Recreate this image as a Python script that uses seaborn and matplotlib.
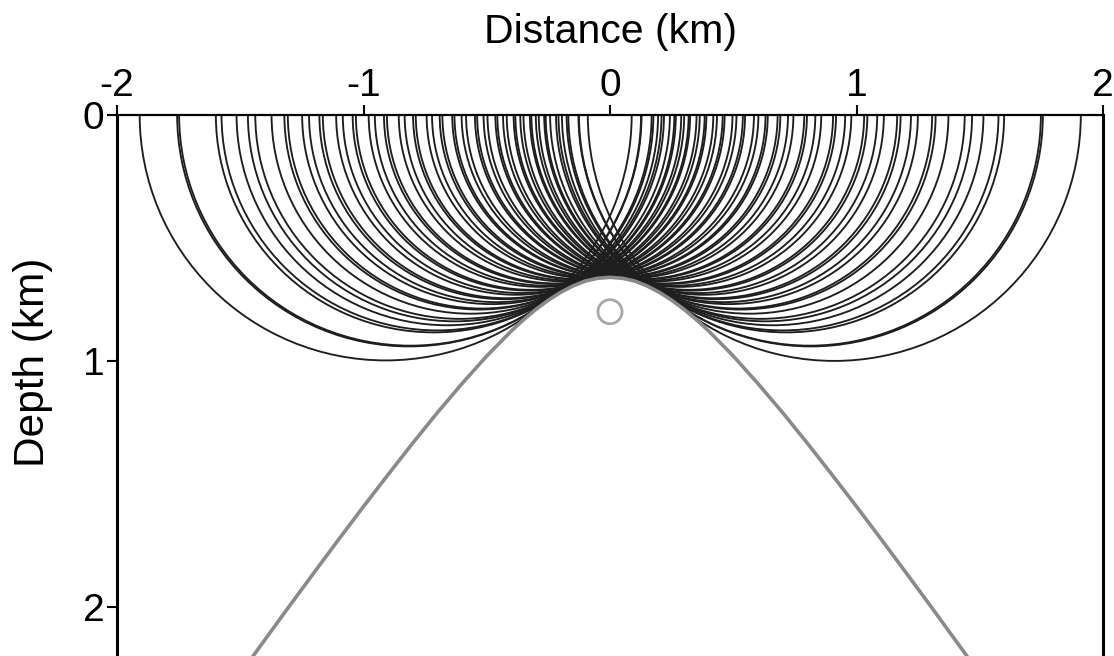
import matplotlib
matplotlib.use("Agg")
import matplotlib.pyplot as plt
from matplotlib.patches import Arc
import seaborn as sns
import pandas as pd

# ---------------- data ----------------
# reflector (gray curve): distance (km) and depth (km)
curve_x = [-1.6, -1.5, -1.4, -1.3, -1.2, -1.1, -1.0, -0.9, -0.8, -0.7, -0.6, -0.5,
           -0.4, -0.35, -0.3, -0.25, -0.2, -0.15, -0.1, -0.05, 0.0,
           0.05, 0.1, 0.15, 0.2, 0.25, 0.3, 0.35, 0.4, 0.5, 0.6, 0.7, 0.8, 0.9,
           1.0, 1.1, 1.2, 1.3, 1.4, 1.5, 1.6]
curve_z = [2.411, 2.272, 2.134, 1.996, 1.860, 1.725, 1.592, 1.462, 1.334, 1.210, 1.092, 0.980,
           0.878, 0.832, 0.790, 0.753, 0.721, 0.695, 0.675, 0.664, 0.660,
           0.664, 0.675, 0.695, 0.721, 0.753, 0.790, 0.832, 0.878, 0.980, 1.092, 1.210, 1.334, 1.462,
           1.592, 1.725, 1.860, 1.996, 2.134, 2.272, 2.411]

# semicircle centres (km, at the surface) and radii (km)
arc_centers = [-0.91, -0.815, -0.81, -0.715, -0.70, -0.66, -0.63, -0.61, -0.565,
               -0.53, -0.52, -0.48, -0.46, -0.43, -0.42, -0.38, -0.36, -0.33, -0.32, -0.28,
               -0.26, -0.23, -0.22, -0.18, -0.16, -0.13, -0.12, -0.08, -0.06, -0.03, -0.02,
               0.02, 0.03, 0.06, 0.08, 0.12, 0.13, 0.16, 0.18, 0.22, 0.23, 0.26,
               0.28, 0.32, 0.33, 0.36, 0.38, 0.42, 0.43, 0.46, 0.48, 0.52, 0.53,
               0.565, 0.61, 0.63, 0.66, 0.70, 0.715, 0.81, 0.815, 0.91]
arc_radii = [0.998, 0.941, 0.938, 0.884, 0.876, 0.855, 0.839, 0.829, 0.808,
             0.791, 0.787, 0.769, 0.761, 0.749, 0.745, 0.731, 0.724, 0.714, 0.711, 0.699,
             0.694, 0.687, 0.685, 0.677, 0.673, 0.669, 0.668, 0.664, 0.662, 0.661, 0.660,
             0.660, 0.661, 0.662, 0.664, 0.668, 0.669, 0.673, 0.677, 0.685, 0.687, 0.694,
             0.699, 0.711, 0.714, 0.724, 0.731, 0.745, 0.749, 0.761, 0.769, 0.787, 0.791,
             0.808, 0.829, 0.839, 0.855, 0.876, 0.884, 0.938, 0.941, 1.000]

# diffractor point
point_x = [0.0]
point_z = [0.80]

x_ticks = [-2, -1, 0, 1, 2]
y_ticks = [0, 1, 2]
x_label = "Distance (km)"
y_label = "Depth (km)"

# ---------------- style ----------------
sns.set_style("white")
plt.rcParams["font.family"] = ["Liberation Sans", "DejaVu Sans"]
plt.rcParams["axes.unicode_minus"] = False
plt.rcParams["text.color"] = "black"
plt.rcParams["axes.labelcolor"] = "black"

W, H = 1114, 656
fig = plt.figure(figsize=(W / 100, H / 100), dpi=100)
ax = fig.add_axes([117 / W, 0.0, 986 / W, 541 / H])

for c, r in zip(arc_centers, arc_radii):
    ax.add_patch(Arc((c, 0.0), 2 * r, 2 * r, theta1=0, theta2=180,
                     color="#1e1e1e", lw=1.35, zorder=2))

curve_df = pd.DataFrame({"x": curve_x, "z": curve_z})
sns.lineplot(data=curve_df, x="x", y="z", sort=False, ax=ax,
             color="#8a8a8a", lw=2.6, zorder=3)

sns.scatterplot(x=point_x, y=point_z, ax=ax, marker="o", s=300,
                facecolor="none", edgecolor="#a8a8a8", linewidth=2.0, zorder=4)

ax.set_xlim(-2, 2)
ax.set_ylim(2.2, 0)
ax.xaxis.tick_top()
ax.xaxis.set_label_position("top")
ax.set_xticks(x_ticks)
ax.set_xticklabels([str(t) for t in x_ticks])
ax.set_yticks(y_ticks)
ax.set_yticklabels([str(t) for t in y_ticks])
ax.tick_params(axis="x", which="both", top=True, bottom=False, direction="out",
               length=7, width=1.5, labelsize=28, pad=1, colors="black")
ax.tick_params(axis="y", which="both", left=True, direction="out",
               length=7, width=1.5, labelsize=28, pad=2, colors="black")
ax.set_xlabel(x_label, fontsize=29.5, labelpad=18, color="black")
ax.set_ylabel(y_label, fontsize=30.5, color="black")
ax.yaxis.set_label_coords(-0.065, 0.543)

for side in ["top", "left", "right"]:
    ax.spines[side].set_visible(True)
    ax.spines[side].set_color("black")
ax.spines["top"].set_linewidth(1.6)
ax.spines["left"].set_linewidth(2.2)
ax.spines["right"].set_linewidth(2.2)
ax.spines["bottom"].set_visible(False)
ax.grid(False)

fig.savefig("out.png", dpi=100)
